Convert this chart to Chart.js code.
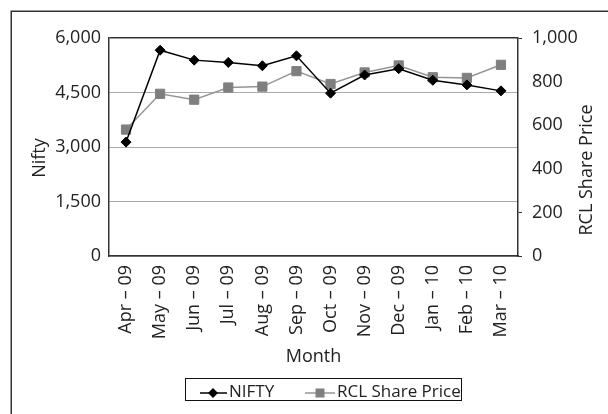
<!DOCTYPE html>
<html>
<head>
<meta charset="utf-8">
<script src="https://cdn.jsdelivr.net/npm/chart.js@4.4.0/dist/chart.umd.min.js"></script>
<style>
  html, body { margin: 0; padding: 0; background: #fff; }
</style>
</head>
<body>
<canvas id="myChart" width="608" height="414"></canvas>
<script>
// data
var months = ['Apr – 09', 'May – 09', 'Jun – 09', 'Jul – 09', 'Aug – 09', 'Sep – 09',
              'Oct – 09', 'Nov – 09', 'Dec – 09', 'Jan – 10', 'Feb – 10', 'Mar – 10'];
var nifty = [3135, 5664, 5391, 5327, 5236, 5509, 4482, 4982, 5155, 4836, 4709, 4545];
var rclPrice = [580, 744, 717, 773, 777, 848, 789, 842, 874, 820, 817, 877];
var niftyTicks = [0, 1500, 3000, 4500, 6000];
var rclTicks = [0, 200, 400, 600, 800, 1000];

var FONT = "'Open Sans', sans-serif";
var TEXT = '#222';
var AXIS = '#333';

Chart.defaults.font.family = FONT;
Chart.defaults.font.size = 18;
Chart.defaults.color = TEXT;

// frame, rotated axis titles and the boxed legend
var decorations = {
    id: 'decorations',
    beforeDraw: function(chart) {
        var c = chart.ctx;
        c.save();
        c.fillStyle = '#fff';
        c.fillRect(0, 0, chart.width, chart.height);
        c.restore();
    },
    afterDraw: function(chart) {
        var c = chart.ctx;
        var ds = chart.data.datasets;
        c.save();

        // outer frame (only left and top edge are in the picture)
        c.strokeStyle = AXIS;
        c.lineWidth = 1.5;
        c.beginPath();
        c.moveTo(11.25, chart.height);
        c.lineTo(11.25, 11.25);
        c.lineTo(chart.width, 11.25);
        c.stroke();

        // y titles
        c.fillStyle = TEXT;
        c.font = '18px ' + FONT;
        c.textAlign = 'center';
        c.textBaseline = 'middle';
        c.save();
        c.translate(40, 158);
        c.rotate(-Math.PI / 2);
        c.fillText('Nifty', 0, 0);
        c.restore();
        c.save();
        c.translate(587, 170);
        c.rotate(-Math.PI / 2);
        c.fillText('RCL Share Price', 0, 0);
        c.restore();

        // legend
        c.strokeStyle = '#111';
        c.lineWidth = 1;
        c.strokeRect(185.5, 378.5, 276, 22);
        c.font = '17px ' + FONT;
        c.textAlign = 'left';
        c.textBaseline = 'alphabetic';

        var ly = 393;
        // NIFTY
        c.strokeStyle = ds[0].borderColor;
        c.lineWidth = 1.5;
        c.beginPath(); c.moveTo(200, ly); c.lineTo(227, ly); c.stroke();
        c.fillStyle = ds[0].pointBackgroundColor;
        c.beginPath();
        c.moveTo(213, ly - 5); c.lineTo(218, ly); c.lineTo(213, ly + 5); c.lineTo(208, ly);
        c.closePath(); c.fill();
        c.fillStyle = TEXT;
        c.fillText(ds[0].label, 229, 397);

        // RCL
        c.strokeStyle = ds[1].borderColor;
        c.beginPath(); c.moveTo(305, ly); c.lineTo(335, ly); c.stroke();
        c.fillStyle = ds[1].pointBackgroundColor;
        c.fillRect(315.5, ly - 4.5, 9, 9);
        c.fillStyle = TEXT;
        c.fillText(ds[1].label, 337, 397);

        c.restore();
    }
};

var ctx = document.getElementById('myChart').getContext('2d');
var chart = new Chart(ctx, {
    type: 'line',
    data: {
        labels: months,
        datasets: [{
            label: 'NIFTY',
            data: nifty,
            yAxisID: 'y',
            borderColor: '#000',
            borderWidth: 1.5,
            pointStyle: 'rectRot',
            pointRadius: 5,
            pointBackgroundColor: '#000',
            pointBorderColor: '#000',
            pointBorderWidth: 1,
            tension: 0
        }, {
            label: 'RCL Share Price',
            data: rclPrice,
            yAxisID: 'y1',
            borderColor: '#959595',
            borderWidth: 1.5,
            pointStyle: 'rect',
            pointRadius: 6.5,
            pointBackgroundColor: '#7f7f7f',
            pointBorderColor: '#7f7f7f',
            pointBorderWidth: 1,
            tension: 0
        }]
    },
    options: {
        responsive: false,
        animation: false,
        layout: { padding: { top: 38, left: 0, right: 0, bottom: 0 } },
        plugins: {
            legend: { display: false },
            tooltip: { enabled: false }
        },
        scales: {
            x: {
                offset: true,
                grid: { display: false, drawTicks: false },
                border: { display: true, color: AXIS, width: 1.5 },
                ticks: { minRotation: 90, maxRotation: 90, padding: 9, autoSkip: false },
                title: { display: true, text: 'Month', padding: { top: 4, bottom: 46 } },
                afterFit: function(scale) { scale.height = 158; }
            },
            y: {
                position: 'left',
                min: 0,
                max: 6000,
                afterBuildTicks: function(scale) {
                    scale.ticks = niftyTicks.map(function(v) { return { value: v }; });
                },
                grid: {
                    drawTicks: false,
                    color: function(c) { return c.tick && c.tick.value === 6000 ? AXIS : '#a9a9a9'; },
                    lineWidth: function(c) { return c.tick && c.tick.value === 6000 ? 1.5 : 1; }
                },
                border: { display: true, color: AXIS, width: 1.5 },
                ticks: { padding: 8 },
                afterFit: function(scale) { scale.width = 109; }
            },
            y1: {
                position: 'right',
                min: 0,
                max: 1000,
                afterBuildTicks: function(scale) {
                    scale.ticks = rclTicks.map(function(v) { return { value: v }; });
                },
                grid: {
                    drawOnChartArea: false,
                    drawTicks: true,
                    tickLength: 4,
                    tickColor: function(c) {
                        var v = c.tick ? c.tick.value : 0;
                        return (v === 0 || v === 200 || v === 1000) ? AXIS : 'rgba(0,0,0,0)';
                    }
                },
                border: { display: true, color: AXIS, width: 1.5 },
                ticks: { padding: 10 },
                afterFit: function(scale) { scale.width = 90; }
            }
        }
    },
    plugins: [decorations]
});
</script>
</body>
</html>
